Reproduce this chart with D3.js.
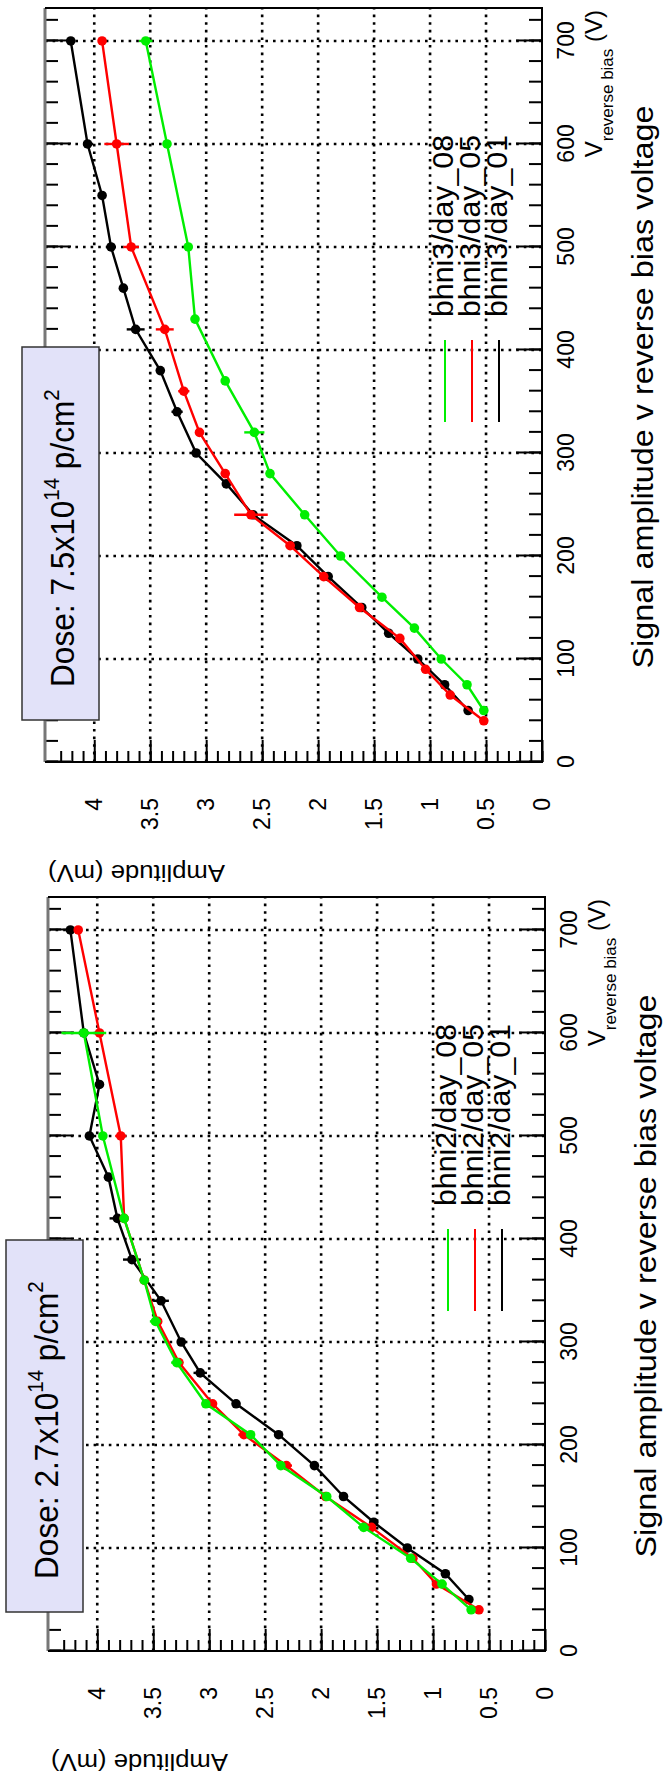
<!DOCTYPE html>
<html>
<head>
<meta charset="utf-8">
<script src="https://cdn.jsdelivr.net/npm/d3@7"></script>
<style>
  body { margin: 0; background: #fff; }
  svg { display: block; }
  text { font-family: "Liberation Sans", Arial, Helvetica, sans-serif; fill: #000; }
</style>
</head>
<body>
<svg id="chart" width="664" height="1784"></svg>
<script>
// [reverse bias (V), amplitude (mV), error (mV)]
const bhni2_day01 = [
  [50, 0.68, 0], [75, 0.89, 0], [100, 1.23, 0], [125, 1.53, 0], [150, 1.80, 0],
  [180, 2.06, 0], [210, 2.38, 0], [240, 2.76, 0], [270, 3.08, 0.06], [300, 3.25, 0],
  [340, 3.43, 0.07], [380, 3.69, 0.08], [420, 3.82, 0.07], [460, 3.90, 0],
  [500, 4.07, 0.04], [550, 3.98, 0], [600, 4.12, 0], [700, 4.24, 0]
];
const bhni2_day05 = [
  [40, 0.59, 0], [65, 0.97, 0], [90, 1.18, 0], [120, 1.55, 0.04], [150, 1.96, 0],
  [180, 2.31, 0.05], [210, 2.69, 0.05], [240, 2.97, 0.04], [280, 3.27, 0], [320, 3.46, 0],
  [360, 3.58, 0], [420, 3.76, 0], [500, 3.79, 0.05], [600, 3.98, 0.04], [700, 4.17, 0]
];
const bhni2_day08 = [
  [40, 0.66, 0], [65, 0.92, 0.04], [90, 1.20, 0], [120, 1.62, 0.05], [150, 1.95, 0],
  [180, 2.36, 0], [210, 2.63, 0], [240, 3.03, 0], [280, 3.29, 0.05], [320, 3.48, 0.05],
  [360, 3.58, 0], [420, 3.76, 0], [500, 3.95, 0], [600, 4.12, 0.2]
];
const bhni3_day01 = [
  [50, 0.66, 0], [75, 0.87, 0], [100, 1.11, 0], [125, 1.37, 0], [150, 1.61, 0],
  [180, 1.91, 0], [210, 2.19, 0], [240, 2.58, 0], [270, 2.82, 0], [300, 3.09, 0],
  [340, 3.26, 0.05], [380, 3.41, 0], [420, 3.63, 0.08], [460, 3.74, 0],
  [500, 3.85, 0], [550, 3.93, 0], [600, 4.06, 0], [700, 4.21, 0]
];
const bhni3_day05 = [
  [40, 0.52, 0], [65, 0.82, 0], [90, 1.04, 0], [120, 1.27, 0], [150, 1.63, 0],
  [180, 1.95, 0], [210, 2.25, 0.04], [240, 2.60, 0.15], [280, 2.83, 0], [320, 3.06, 0],
  [360, 3.20, 0.05], [420, 3.37, 0.08], [500, 3.67, 0.07], [600, 3.80, 0.11], [700, 3.93, 0]
];
const bhni3_day08 = [
  [50, 0.52, 0], [75, 0.67, 0], [100, 0.90, 0], [130, 1.14, 0], [160, 1.43, 0],
  [200, 1.80, 0], [240, 2.12, 0], [280, 2.43, 0], [320, 2.57, 0.09], [370, 2.83, 0],
  [430, 3.10, 0], [500, 3.16, 0], [600, 3.35, 0], [700, 3.54, 0.06]
];

const voltTicks = [0, 100, 200, 300, 400, 500, 600, 700];
const ampTicks = [0, 0.5, 1, 1.5, 2, 2.5, 3, 3.5, 4];
const names2 = ["bhni2/day_08", "bhni2/day_05", "bhni2/day_01"];
const names3 = ["bhni3/day_08", "bhni3/day_05", "bhni3/day_01"];
const colors = ["#00ee00", "#ff0000", "#000000"];
const titleText = "Signal amplitude v reverse bias voltage";
const yTitle = "Amplitude (mV)";

// page is drawn in landscape and turned a quarter turn
const W = 754, H = 497;
const panels = [
  { u0: 133, v0: 48, box: [39, 411, -42, 35], series: [bhni2_day08, bhni2_day05, bhni2_day01], names: names2, dose: "2.7" },
  { u0: 1022, v0: 45, box: [42, 415, -23, 54], series: [bhni3_day08, bhni3_day05, bhni3_day01], names: names3, dose: "7.5" }
];

const svg = d3.select("#chart");
const page = svg.append("g").attr("transform", "translate(0,1784) rotate(-90)");

panels.forEach(p => {
  const x = d3.scaleLinear().domain([0, 732]).range([p.u0, p.u0 + W]);
  const y = d3.scaleLinear().domain([0, 4.44]).range([p.v0 + H, p.v0]);
  const g = page.append("g");

  // grid
  g.append("g").selectAll("line").data(voltTicks.slice(1)).join("line")
      .attr("x1", d => x(d)).attr("x2", d => x(d))
      .attr("y1", p.v0).attr("y2", p.v0 + H);
  g.append("g").selectAll("line").data(ampTicks.slice(1)).join("line")
      .attr("x1", p.u0).attr("x2", p.u0 + W)
      .attr("y1", d => y(d)).attr("y2", d => y(d));
  g.selectAll("line")
      .attr("stroke", "#000").attr("stroke-width", 2.6).attr("stroke-dasharray", "2.6,5");

  // ticks
  const minorV = d3.range(0, 732, 20);
  const minorA = d3.range(0, 44).map(i => i / 10);
  const fixAxis = a => {
    a.select(".domain").remove();
    a.selectAll(".tick line").attr("stroke", "#000").attr("stroke-width", 2);
    a.attr("font-size", 23).attr("font-family", null);
  };
  g.append("g").attr("transform", `translate(0,${p.v0 + H})`)
      .call(d3.axisBottom(x).tickValues(minorV).tickSize(-13).tickFormat(""))
      .call(fixAxis);
  g.append("g").attr("transform", `translate(0,${p.v0 + H})`)
      .call(d3.axisBottom(x).tickValues(voltTicks).tickSize(-26).tickPadding(16).tickFormat(String))
      .call(fixAxis);
  g.append("g").attr("transform", `translate(0,${p.v0})`)
      .call(d3.axisTop(x).tickValues(minorV).tickSize(-13).tickFormat(""))
      .call(fixAxis);
  g.append("g").attr("transform", `translate(0,${p.v0})`)
      .call(d3.axisTop(x).tickValues(voltTicks).tickSize(-26).tickFormat(""))
      .call(fixAxis);
  g.append("g").attr("transform", `translate(${p.u0},0)`)
      .call(d3.axisLeft(y).tickValues(minorA).tickSize(-11).tickFormat(""))
      .call(fixAxis);
  g.append("g").attr("transform", `translate(${p.u0},0)`)
      .call(d3.axisLeft(y).tickValues(ampTicks).tickSize(-22).tickPadding(36).tickFormat(String))
      .call(fixAxis);

  // frame
  const frame = g.append("g").attr("fill", "none");
  frame.append("line").attr("x1", p.u0).attr("x2", p.u0 + W).attr("y1", p.v0).attr("y2", p.v0)
      .attr("stroke", "#777").attr("stroke-width", 3);
  frame.append("path")
      .attr("d", `M${p.u0},${p.v0}V${p.v0 + H}H${p.u0 + W}V${p.v0}`)
      .attr("stroke", "#000").attr("stroke-width", 2);

  // data, black drawn first
  const line = d3.line().x(d => x(d[0])).y(d => y(d[1]));
  [2, 1, 0].forEach(i => {
    const s = p.series[i], c = colors[i];
    const sg = g.append("g");
    sg.append("path").datum(s).attr("d", line)
        .attr("fill", "none").attr("stroke", c).attr("stroke-width", 2.4);
    sg.selectAll("line.err").data(s.filter(d => d[2] > 0)).join("line")
        .attr("class", "err")
        .attr("x1", d => x(d[0])).attr("x2", d => x(d[0]))
        .attr("y1", d => y(d[1] - d[2])).attr("y2", d => y(d[1] + d[2]))
        .attr("stroke", c).attr("stroke-width", 2.4);
    sg.selectAll("circle").data(s).join("circle")
        .attr("cx", d => x(d[0])).attr("cy", d => y(d[1]))
        .attr("r", 4.8).attr("fill", c);
  });

  // legend
  p.names.forEach((n, i) => {
    const v = p.v0 + 400 + 27 * i;
    g.append("line").attr("x1", p.u0 + 340).attr("x2", p.u0 + 422)
        .attr("y1", v).attr("y2", v)
        .attr("stroke", colors[i]).attr("stroke-width", 2);
    g.append("text").attr("x", p.u0 + 445).attr("y", v + 8)
        .attr("font-size", 30).attr("textLength", 182).attr("lengthAdjust", "spacingAndGlyphs")
        .text(n);
  });

  // dose box
  const [b0, b1, bt, bb] = p.box;
  g.append("rect")
      .attr("x", p.u0 + b0).attr("y", p.v0 + bt)
      .attr("width", b1 - b0).attr("height", bb - bt)
      .attr("fill", "#e2e2f9").attr("stroke", "#333").attr("stroke-width", 1.5);
  const dt = g.append("text")
      .attr("transform", `translate(${p.u0 + b0 + 33},${p.v0 + bt + 52}) scale(0.93,1)`)
      .attr("font-size", 34);
  dt.append("tspan").text(`Dose: ${p.dose}x10`);
  dt.append("tspan").attr("font-size", 22).attr("dy", -15).text("14");
  dt.append("tspan").attr("dy", 15).text(" p/cm");
  dt.append("tspan").attr("font-size", 22).attr("dy", -15).text("2");

  // axis titles
  const vl = g.append("text")
      .attr("x", p.u0 + W - 2).attr("y", p.v0 + H + 60)
      .attr("text-anchor", "end").attr("font-size", 24);
  vl.append("tspan").text("V");
  vl.append("tspan").attr("font-size", 17).attr("dy", 11).text("reverse bias");
  vl.append("tspan").attr("dy", -11).text(" (V)");

  g.append("text")
      .attr("transform", `translate(${p.u0 - 103},${p.v0 + 3}) rotate(-90)`)
      .attr("text-anchor", "end").attr("font-size", 24)
      .attr("textLength", 177).attr("lengthAdjust", "spacingAndGlyphs")
      .text(yTitle);

  g.append("text")
      .attr("x", p.u0 + 375).attr("y", p.v0 + 608)
      .attr("text-anchor", "middle").attr("font-size", 29)
      .attr("textLength", 563).attr("lengthAdjust", "spacingAndGlyphs")
      .text(titleText);
});
</script>
</body>
</html>
